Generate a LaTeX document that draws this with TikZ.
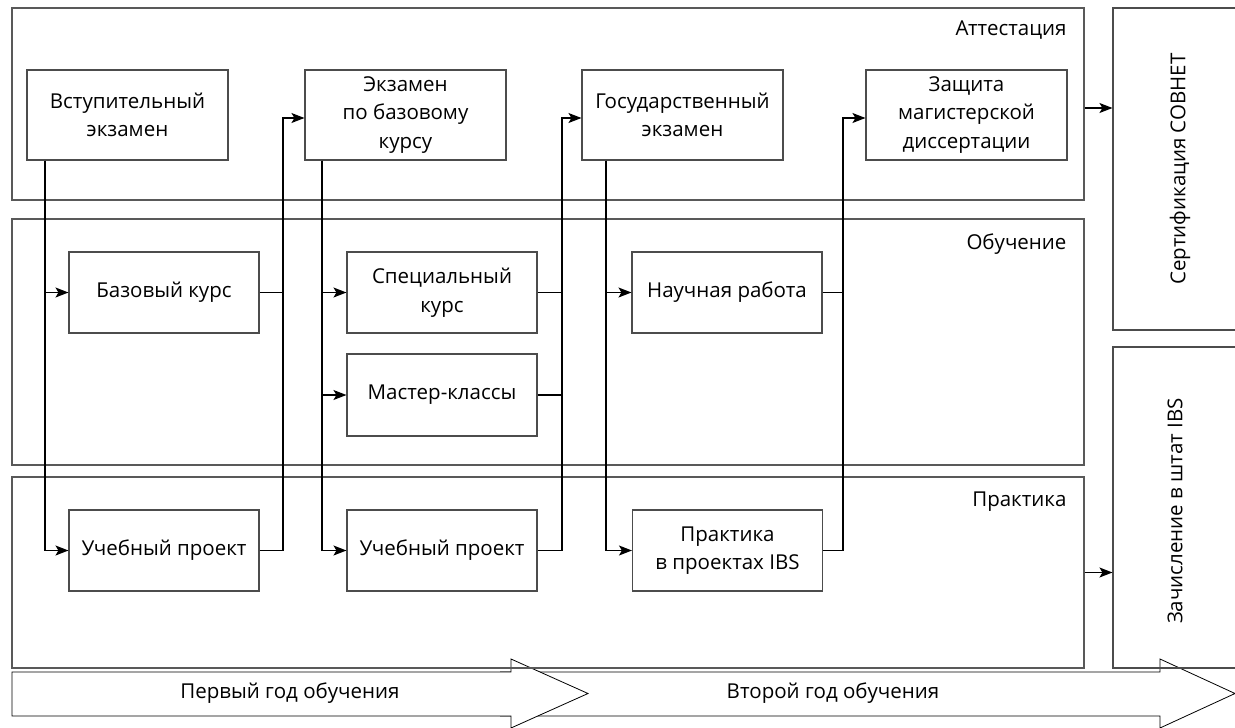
\documentclass[tikz,border=0pt]{standalone}
\usepackage{fontspec}
\setmainfont{Open Sans}
\usetikzlibrary{arrows.meta,calc}
\begin{document}
\begin{tikzpicture}[x=1pt,y=-1pt,
  every node/.style={font=\fontsize{20.5}{28.5}\selectfont},
  panel/.style={draw=black!65,line width=1.1pt,inner sep=0pt,minimum width=1072pt},
  stagebox/.style={draw=black!70,line width=1.1pt,fill=white,inner sep=0pt,align=center},
  examnode/.style={stagebox,minimum width=201pt,minimum height=90pt},
  worknode/.style={stagebox,minimum width=190pt,minimum height=81pt},
  sidebox/.style={draw=black!70,line width=1.1pt,inner sep=0pt,minimum width=127pt,minimum height=321pt},
  flow/.style={line width=1.3pt,-{Stealth[length=13pt,width=10pt,inset=3pt]}},
  link/.style={line width=1.3pt},
  yeararrow/.style={draw=black,line width=0.8pt,fill=white,line join=miter}]
\useasboundingbox[fill=white] (0,0) rectangle (1235,728);

% year arrows along the bottom
\draw[yeararrow] (500,672) -- (1160,672) -- (1160,659) -- (1235,693.5) -- (1160,728) -- (1160,716) -- (500,716);
\draw[yeararrow] (12,672) -- (511,672) -- (511,659) -- (588,693.5) -- (511,728) -- (511,716) -- (12,716) -- cycle;
\node (y1) at (290,693) {Первый год обучения};
\node (y2) at (833,693) {Второй год обучения};

% swim lanes
\node[panel,minimum height=192pt] (att) at (548,104) {};
\node[panel,minimum height=246pt] (obu) at (548,342) {};
\node[panel,minimum height=191pt] (pra) at (548,572.5) {};
\node[anchor=base east] (latt) at (1070,35) {Аттестация};
\node[anchor=base east] (lobu) at (1070,249) {Обучение};
\node[anchor=base east] (lpra) at (1070,506) {Практика};

% outcomes on the right
\node[sidebox,minimum height=322pt] (cert) at (1176.5,169) {};
\node[sidebox] (zach) at (1176.5,507.5) {};
\node[rotate=90] (tcert) at (1180,169) {Сертификация СОВНЕТ};
\node[rotate=90] (tzach) at (1175,511) {Зачисление в штат IBS};

% examinations
\node[examnode] (b1) at (127.5,115) {Вступительный\\экзамен};
\node[examnode] (b2) at (405.5,115) {Экзамен\\по базовому\\курсу};
\node[examnode] (b3) at (682.5,115) {Государственный\\экзамен};
\node[examnode] (b4) at (966.5,115) {Защита\\магистерской\\диссертации};

% courses and projects
\node[worknode] (bk) at (164,292.5) {Базовый курс};
\node[worknode] (u1) at (164,550.5) {Учебный проект};
\node[worknode] (sp) at (442,292.5) {Специальный\\курс};
\node[worknode,minimum height=82pt] (ms) at (442,395) {Мастер-классы};
\node[worknode] (u2) at (442,550.5) {Учебный проект};
\node[worknode] (nr) at (727,292.5) {Научная работа};
\node[worknode] (pi) at (727.5,550.5) {Практика\\в проектах IBS};

% vertical buses
\coordinate (v1) at (45,0);
\coordinate (v2) at (283,0);
\coordinate (v3) at (322,0);
\coordinate (v4) at (562,0);
\coordinate (v5) at (606,0);
\coordinate (v6) at (843,0);

% first stage
\draw[flow] (b1.south -| v1) |- (bk.west);
\draw[flow] (b1.south -| v1) |- (u1.west);
\draw[link] (bk.east) -| (v2 |- bk.east);
\draw[flow] (u1.east) -| ([yshift=-3pt]v2 |- b2.west) -- ([yshift=-3pt]b2.west);

% second stage
\draw[flow] (b2.south -| v3) |- (sp.west);
\draw[flow] (b2.south -| v3) |- (ms.west);
\draw[flow] (b2.south -| v3) |- (u2.west);
\draw[link] (sp.east) -| (v4 |- sp.east);
\draw[link] (ms.east) -| (v4 |- ms.east);
\draw[flow] (u2.east) -| ([yshift=-3pt]v4 |- b3.west) -- ([yshift=-3pt]b3.west);

% third stage
\draw[flow] (b3.south -| v5) |- (nr.west);
\draw[flow] (b3.south -| v5) |- (pi.west);
\draw[link] (nr.east) -| (v6 |- nr.east);
\draw[flow] (pi.east) -| ([yshift=-3pt]v6 |- b4.west) -- ([yshift=-3pt]b4.west);

% outcomes
\draw[flow] ([yshift=-4pt]att.east) -- ([yshift=-4pt]att.east -| cert.west);
\draw[flow] (pra.east) -- (pra.east -| zach.west);
\end{tikzpicture}
\end{document}
